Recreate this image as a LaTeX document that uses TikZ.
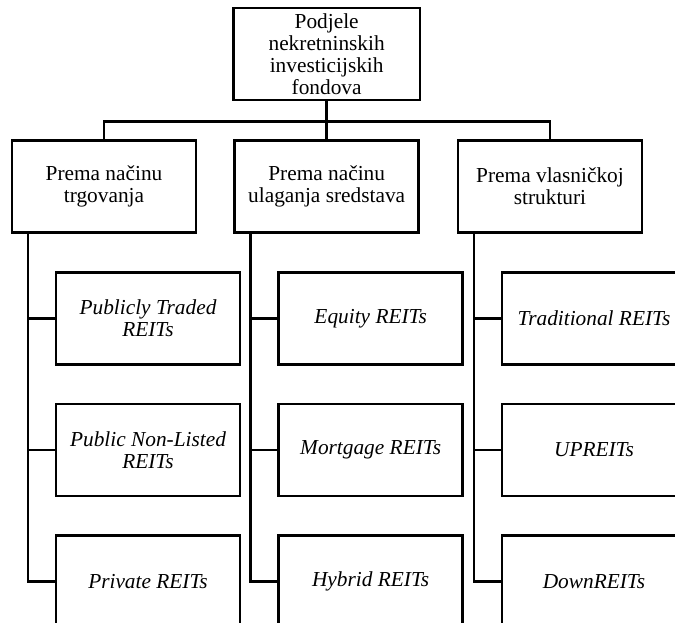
\documentclass[tikz,border=0pt]{standalone}
\usepackage{fontspec}
\setmainfont{Liberation Serif}
\usetikzlibrary{positioning}
\tikzset{
box/.style={
  draw,
  rectangle,
  line width=2pt,
  align=center,
  minimum width=138pt,
  minimum height=69pt,
  inner sep=2pt,
  font=\fontsize{16}{16.5}\selectfont
},
item/.style={box,font=\fontsize{16}{16.5}\selectfont\itshape},
link/.style={line width=2pt},
}

\begin{document}
\begin{tikzpicture}
\useasboundingbox (0,0) rectangle (506.25pt,-466.5pt);
\clip (0,0) rectangle (506.25pt,-466.5pt);
% the root and the three groups
\node[box,minimum width=140pt] (root) at (245pt,-40.5pt)
  {Podjele\\nekretninskih\\investicijskih\\fondova};
\node[box,below=28.5pt of root] (k2) {Prema načinu\\ulaganja sredstava};
\node[box,left=27pt of k2] (k1) {Prema načinu\\trgovanja};
\node[box,right=27.5pt of k2] (k3) {Prema vlasničkoj\\strukturi};
% the REIT types
\node[item,below right=28pt and 33pt of k1.south west] (k1a) {Publicly Traded\\REITs};
\node[item,below=27.5pt of k1a] (k1b) {Public Non-Listed\\REITs};
\node[item,below=27.5pt of k1b] (k1c) {Private REITs};
\node[item,below right=28pt and 33pt of k2.south west] (k2a) {Equity REITs};
\node[item,below=27.5pt of k2a] (k2b) {Mortgage REITs};
\node[item,below=27.5pt of k2b] (k2c) {Hybrid REITs};
\node[item,below right=28pt and 33pt of k3.south west] (k3a) {Traditional REITs};
\node[item,below=27.5pt of k3a] (k3b) {UPREITs};
\node[item,below=27.5pt of k3b] (k3c) {DownREITs};
% the tree lines
\draw[link] (root.south) -- ++(0,-15pt) coordinate (bar);
\draw[link] (k1.north) |- (bar) -| (k3.north);
\draw[link] (k2.north) -- (k2.north |- bar);
\foreach \k in {1,2,3}
{
  \draw[link] ([xshift=13pt]k\k.south west) |- (k\k c.west);
  \foreach \t in {a,b}
    \draw[link] (k\k\t.west) -| ([xshift=13pt]k\k.south west);
}
\end{tikzpicture}
\end{document}
